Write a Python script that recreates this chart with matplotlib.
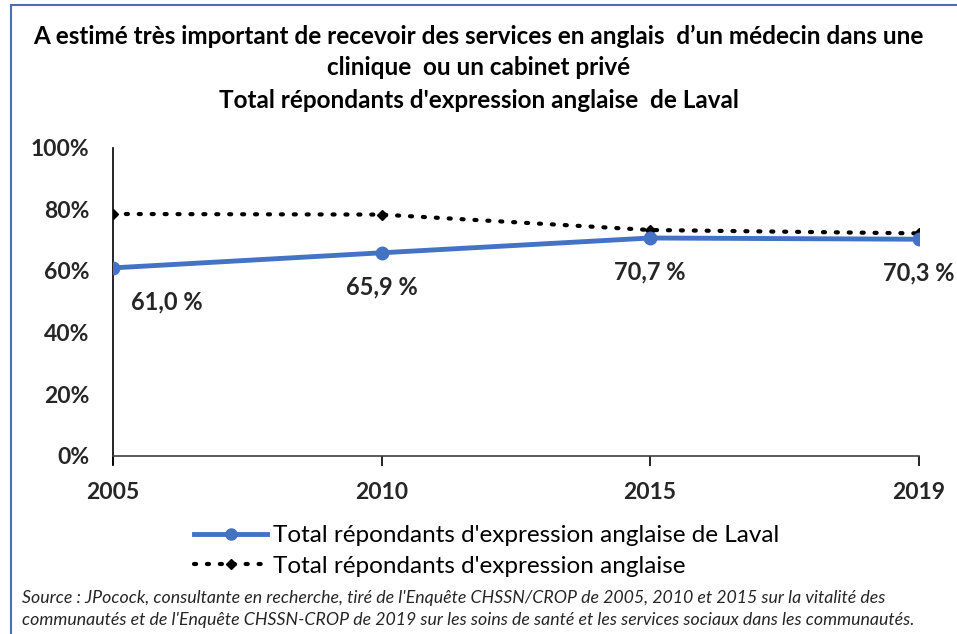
import matplotlib.pyplot as plt
from matplotlib.lines import Line2D

plt.rcParams['font.family'] = ['Lato', 'DejaVu Sans']

years = ['2005', '2010', '2015', '2019']
laval = [61.0, 65.9, 70.7, 70.3]
total = [78.5, 78.3, 73.3, 72.2]
laval_labels = ['61,0 %', '65,9 %', '70,7 %', '70,3 %']
y_ticks = [0, 20, 40, 60, 80, 100]

blue = '#4472C4'
dots = (0, (0.5, 2.6))

fig = plt.figure(figsize=(9.57, 6.34), dpi=100)
ax = fig.add_axes([0.118, 0.281, 0.842, 0.486])

x = list(range(len(years)))
ax.plot(x, total, color='black', linestyle=dots, linewidth=3.0,
        dash_capstyle='round', marker='D', markersize=5, zorder=2)
ax.plot(x, laval, color=blue, linewidth=3.5, marker='o', markersize=9, zorder=3)

# data labels under the Laval series
offsets = [(0.2, -11), (0, -11), (0, -11), (0, -11)]
for i, (v, lab) in enumerate(zip(laval, laval_labels)):
    dx, dy = offsets[i]
    ax.text(i + dx, v + dy, lab, ha='center', va='center', fontsize=17,
            fontweight='bold', color='#262626')

ax.set_xlim(0, len(years) - 1)
ax.set_ylim(0, 100)
ax.set_xticks(x)
ax.set_xticklabels(years, fontsize=16.5, fontweight='bold', color='#262626')
ax.set_yticks(y_ticks)
ax.set_yticklabels([f'{t}%' for t in y_ticks], fontsize=16.5, fontweight='bold', color='#262626')
ax.tick_params(axis='y', length=0, pad=17)
ax.tick_params(axis='x', length=7, width=1.2, direction='out', pad=12)
ax.spines['top'].set_visible(False)
ax.spines['right'].set_visible(False)
ax.spines['left'].set_bounds(-2.5, 100)
ax.spines['left'].set_linewidth(1.2)
ax.spines['bottom'].set_linewidth(1.2)
ax.spines['bottom'].set_color('#404040')

fig.text(0.5, 0.942, "A estimé très important de recevoir des services en anglais  d’un médecin dans une",
         ha='center', va='center', fontsize=17.5, fontweight='bold')
fig.text(0.5, 0.894, "clinique  ou un cabinet privé", ha='center', va='center',
         fontsize=17.5, fontweight='bold')
fig.text(0.5, 0.842, "Total répondants d'expression anglaise  de Laval", ha='center',
         va='center', fontsize=17.5, fontweight='bold')

handles = [
    Line2D([], [], color=blue, linewidth=3.5, marker='o', markersize=8),
    Line2D([], [], color='black', linestyle=dots, linewidth=3.0,
           dash_capstyle='round', marker='D', markersize=5),
]
fig.legend(handles, ["Total répondants d'expression anglaise de Laval",
                     "Total répondants d'expression anglaise"],
           loc='center left', bbox_to_anchor=(0.18, 0.131), frameon=False,
           fontsize=17.5, handlelength=3.0, handletextpad=0.25, labelspacing=0.4)

fig.text(0.023, 0.057, "Source : JPocock, consultante en recherche, tiré de l'Enquête CHSSN/CROP de 2005, 2010 et 2015 sur la vitalité des",
         fontsize=12.8, style='italic', va='center', color='#262626')
fig.text(0.023, 0.022, "communautés et de l'Enquête CHSSN-CROP de 2019 sur les soins de santé et les services sociaux dans les communautés.",
         fontsize=12.8, style='italic', va='center', color='#262626')

# frame around the chart (left and top edges visible)
fig.add_artist(Line2D([0.012, 0.012], [0, 0.992], color='#4a6fb5', linewidth=1.5))
fig.add_artist(Line2D([0.012, 1.0], [0.992, 0.992], color='#4a6fb5', linewidth=1.5))

fig.savefig('out.png', dpi=100)
